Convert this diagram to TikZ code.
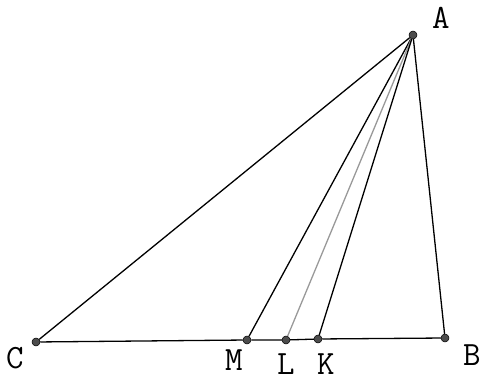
\documentclass[tikz,border=0pt]{standalone}
\begin{document}
\begin{tikzpicture}[x=1pt,y=-1pt,
  pt/.style={circle,fill=black!70,draw=black,line width=0.5pt,inner sep=0pt,minimum size=8pt},
  seg/.style={line width=1.3pt,black},
  lbl/.style={font=\ttfamily\fontsize{34}{34}\selectfont,inner sep=0pt}]
\useasboundingbox (0,0) rectangle (480,382);
\node[pt] (A) at (413,35) {};
\node[pt] (C) at (36,342) {};
\node[pt] (B) at (445,338) {};
\node[pt] (M) at (247,340) {};
\node[pt] (L) at (286,340) {};
\node[pt] (K) at (318,339) {};
\draw[seg] (A) -- (C);
\draw[seg] (A) -- (B);
\draw[seg] (C) -- (M) -- (L) -- (K) -- (B);
\draw[seg] (A) -- (M);
\draw[line width=1.3pt,black!40] (A) -- (L);
\draw[seg] (A) -- (K);
\node[lbl] (lA) at (441,18) {A};
\node[lbl] (lC) at (15,358) {C};
\node[lbl] (lM) at (234,360) {M};
\node[lbl] (lL) at (286,364) {L};
\node[lbl] (lK) at (326,364) {K};
\node[lbl] (lB) at (472,355) {B};
\end{tikzpicture}
\end{document}
